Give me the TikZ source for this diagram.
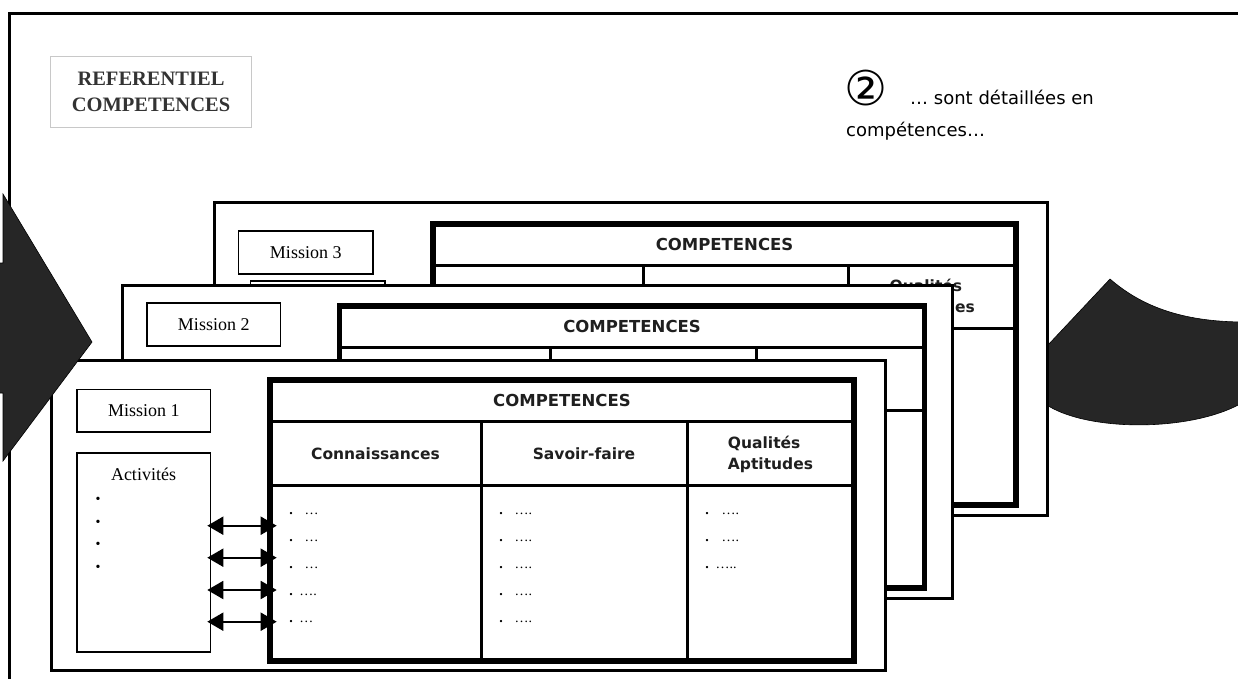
\documentclass[tikz,border=0pt]{standalone}
\usepackage{fontspec}
\setmainfont{Liberation Serif}
\newfontfamily\comic{DejaVu Sans}
\usetikzlibrary{arrows.meta}
\definecolor{dark}{HTML}{262626}
\definecolor{refgray}{HTML}{333333}
\definecolor{lightline}{HTML}{C8C8C8}
\begin{document}
\begin{tikzpicture}[x=1pt,y=-1pt,
  frm/.style={draw=black, line width=3pt, fill=white},
  mbox/.style={draw=black, line width=1.6pt, fill=white, inner sep=0pt, font=\fontsize{18}{20}\selectfont},
  abox/.style={draw=black, line width=1.6pt, fill=white},
  tout/.style={draw=black, line width=5.5pt},
  tin/.style={draw=black, line width=3pt},
  hdr/.style={font=\comic\bfseries\fontsize{16.5}{18}\selectfont, text=black!88, inner sep=0pt},
  colh/.style={font=\comic\bfseries\fontsize{15.5}{21}\selectfont, text=black!88, align=left, inner sep=0pt},
  itm/.style={anchor=base west, inner sep=0pt, font=\fontsize{14}{14}\selectfont},
  bul/.style={inner sep=0pt, font=\fontsize{14}{14}\selectfont},
  dbl/.style={line width=2pt, {Triangle[length=16pt,width=18pt]}-{Triangle[length=16pt,width=18pt]}},
  blob/.style={fill=dark, draw=black, line width=0.6pt},
  refbox/.style={draw=lightline, line width=0.8pt, minimum width=201pt, minimum height=70.6pt, align=center, inner sep=0pt, text=refgray, font=\bfseries\fontsize{20.5}{26}\selectfont},
  note/.style={font=\comic\fontsize{18}{20}\selectfont, anchor=base west, inner sep=0pt}
]
\newcommand{\itb}{{\bfseries .}}
\useasboundingbox (0,0) rectangle (1238,678);
\clip (0,0) rectangle (1238,678);

% outer frame
\draw[line width=2.3pt] (9.5,700) -- (9.5,13.5) -- (1260,13.5);

% title box
\node[refbox] (ref) at (151,92) {REFERENTIEL\\COMPETENCES};

% note
\node[font=\comic\fontsize{48}{48}\selectfont, inner sep=0pt] (two) at (866,88) {②};
\node[note] (n1) at (910,104) {… sont détaillées en};
\node[note] (n2) at (846,136) {compétences…};

% right curved shape (behind frame 3)
\filldraw[blob] (1110,279) .. controls (1140,305) and (1180,322) .. (1245,322) -- (1245,401) .. controls (1195,433) and (1078,433) .. (1040,400) -- (1040,353.5) -- cycle;

% ---------- frame 3 ----------
\draw[frm] (214,202.5) rectangle (1047.5,515.5);
\draw[abox] (250.5,281) rectangle (385,480);
\node[mbox, minimum width=134.5pt, minimum height=43pt] (m3) at (305.75,252.5) {Mission 3};
\draw[tin] (433,265.5) -- (1016,265.5);
\draw[tin] (433,328) -- (1016,328);
\draw[tin] (643,265.5) -- (643,505);
\draw[tin] (848.5,265.5) -- (848.5,505);
\draw[tout] (433,224) rectangle (1016,505);
\node[hdr] (h3) at (724.5,244.75) {COMPETENCES};
\node[colh] (c3a) at (538,296.75) {Connaissances};
\node[colh] (c3b) at (745.75,296.75) {Savoir-faire};
\node[colh] (c3c) at (932.25,297.5) {Qualités\\Aptitudes};

% ---------- frame 2 ----------
\draw[frm] (122,285) rectangle (952.5,598);
\draw[abox] (147,365) rectangle (280.5,565);
\node[mbox, minimum width=133.5pt, minimum height=42.7pt] (m2) at (213.75,324.6) {Mission 2};
\draw[tin] (339.7,347) -- (924.5,347);
\draw[tin] (339.7,410) -- (924.5,410);
\draw[tin] (550.5,347) -- (550.5,588);
\draw[tin] (756.5,347) -- (756.5,588);
\draw[tout] (339.7,306) rectangle (924.5,588);
\node[hdr] (h2) at (632,326.5) {COMPETENCES};
\node[colh] (c2a) at (445,378.5) {Connaissances};
\node[colh] (c2b) at (653.5,378.5) {Savoir-faire};
\node[colh] (c2c) at (840.5,379.2) {Qualités\\Aptitudes};

% ---------- frame 1 ----------
\draw[frm] (51.7,360) rectangle (885.5,670.5);
\node[mbox, minimum width=133.3pt, minimum height=42.7pt] (m1) at (143.85,410.85) {Mission 1};
\node[mbox, minimum width=133.3pt, minimum height=199.4pt] (act1) at (143.85,552.5) {};
\node[font=\fontsize{18}{20}\selectfont, inner sep=0pt] (actt) at (143.5,474) {Activités};
\node[bul] (ab1) at (98,500) {•};
\node[bul] (ab2) at (98,523) {•};
\node[bul] (ab3) at (98,545.5) {•};
\node[bul] (ab4) at (98,568) {•};

\draw[tin] (270,421.5) -- (854,421.5);
\draw[tin] (270,485.5) -- (854,485.5);
\draw[tin] (481,421.5) -- (481,661);
\draw[tin] (687,421.5) -- (687,661);
\node[tout, minimum width=584pt, minimum height=281pt, inner sep=0pt, outer sep=0pt] (tab1) at (562,520.5) {};
\node[hdr] (h1) at (562,400) {COMPETENCES};
\node[colh] (c1a) at (375.5,453.5) {Connaissances};
\node[colh] (c1b) at (584,453.5) {Savoir-faire};
\node[colh] (c1c) at (770.5,454.2) {Qualités\\Aptitudes};

% items
\node[itm] (k1) at (289.25,514) {\itb\hspace{11.65pt}…};
\node[itm] (k2) at (289.25,541) {\itb\hspace{11.65pt}…};
\node[itm] (k3) at (289.25,568) {\itb\hspace{11.65pt}…};
\node[itm] (k4) at (289.25,595) {\itb\hspace{6.35pt}….};
\node[itm] (k5) at (289.25,622) {\itb\hspace{6.35pt}…};
\node[itm] (s1) at (499.25,514) {\itb\hspace{11.65pt}….};
\node[itm] (s2) at (499.25,541) {\itb\hspace{11.65pt}….};
\node[itm] (s3) at (499.25,568) {\itb\hspace{11.65pt}….};
\node[itm] (s4) at (499.25,595) {\itb\hspace{11.65pt}….};
\node[itm] (s5) at (499.25,622) {\itb\hspace{11.65pt}….};
\node[itm] (q1) at (705.25,514) {\itb\hspace{12.65pt}….};
\node[itm] (q2) at (705.25,541) {\itb\hspace{12.65pt}….};
\node[itm] (q3) at (705.25,568) {\itb\hspace{6.65pt}…..};

% double arrows between activities and table
\foreach \yy in {525.7,557.7,590,621.7}{
  \draw[dbl, shorten <=-4pt, shorten >=-6.7pt] (act1.east |- 0,\yy) -- (tab1.west |- 0,\yy);
}

% left big arrow (on top)
\filldraw[blob] (-20,263) -- (3,263) -- (3,194) -- (92,342) -- (3,461) -- (3,393) -- (-20,393) -- cycle;
\end{tikzpicture}
\end{document}
